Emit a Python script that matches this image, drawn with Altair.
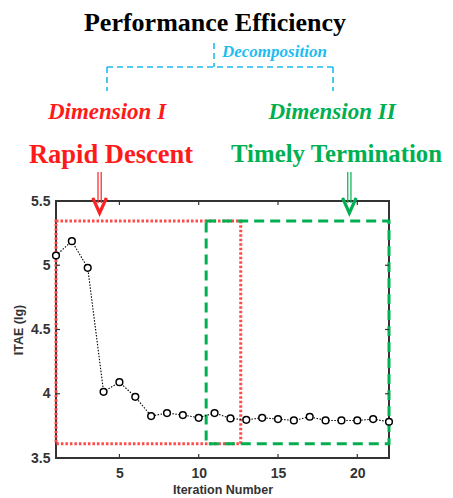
import altair as alt
import pandas as pd

# ---- data ----
iterations = list(range(1, 23))
itae = [5.076, 5.187, 4.98, 4.015, 4.09, 3.976, 3.826, 3.85, 3.834, 3.813, 3.85,
        3.808, 3.797, 3.813, 3.803, 3.792, 3.821, 3.792, 3.792, 3.792, 3.803, 3.782]

x_ticks = [5, 10, 15, 20]
y_ticks = [3.5, 4, 4.5, 5, 5.5]

# region boxes (x1, x2, y1, y2)
red_box = [1, 12.65, 3.61, 5.345]
green_box = [10.47, 22, 3.61, 5.345]
arrow_x = [3.75, 19.5]
arrow_colors = ["#ff2020", "#00b050"]

W, H = 333, 257
RED = "#ff1a1a"
GREEN = "#00b050"
BLUE = "#1ebcf0"
SERIF = "Liberation Serif"
SANS = "Liberation Sans"

df = pd.DataFrame({"it": iterations, "v": itae})
one = pd.DataFrame({"a": [0]})

xs = alt.Scale(domain=[1, 22], nice=False)
ys = alt.Scale(domain=[3.5, 5.5], nice=False)

base = alt.Chart(df)

line = base.mark_line(color="black", strokeDash=[1.5, 1.5], strokeWidth=1.1).encode(
    x=alt.X("it:Q", scale=xs,
            axis=alt.Axis(title="Iteration Number", values=x_ticks, ticks=False, tickSize=0,
                          domain=False, grid=False, labelPadding=8, labelFontSize=14,
                          labelFontWeight="bold", labelColor="#333", labelFont=SANS,
                          titleFont=SANS, titleFontSize=12.5, titleFontWeight="bold",
                          titleColor="#333", titlePadding=3)),
    y=alt.Y("v:Q", scale=ys,
            axis=alt.Axis(title="ITAE (lg)", values=y_ticks, format="~g", ticks=False,
                          tickSize=0, domain=False, grid=False, labelPadding=6,
                          labelFontSize=14, labelFontWeight="bold", labelColor="#333",
                          labelFont=SANS, titleFont=SANS, titleFontSize=12.5,
                          titleFontWeight="bold", titleColor="#333", titlePadding=5)),
)
points = base.mark_point(shape="circle", filled=True, fill="white", stroke="black",
                         strokeWidth=1.5, size=45, opacity=1).encode(
    x=alt.X("it:Q", scale=xs), y=alt.Y("v:Q", scale=ys))

boxes = pd.DataFrame({
    "x1": [red_box[0], green_box[0]], "x2": [red_box[1], green_box[1]],
    "y1": [red_box[2], green_box[2]], "y2": [red_box[3], green_box[3]],
    "k": ["red", "green"]})
red_rect = alt.Chart(boxes[boxes.k == "red"]).mark_rect(
    fill="transparent", stroke="#ff4a4a", strokeWidth=3, strokeDash=[2.5, 2]).encode(
    x=alt.X("x1:Q", scale=xs), x2="x2:Q", y=alt.Y("y1:Q", scale=ys), y2="y2:Q")
green_rect = alt.Chart(boxes[boxes.k == "green"]).mark_rect(
    fill="transparent", stroke="#00b050", strokeWidth=3, strokeDash=[10, 6]).encode(
    x=alt.X("x1:Q", scale=xs), x2="x2:Q", y=alt.Y("y1:Q", scale=ys), y2="y2:Q")

# inward ticks
xt = pd.DataFrame({"t": x_ticks})
yt = pd.DataFrame({"t": [4, 4.5, 5]})
tick_layers = [
    alt.Chart(xt).mark_rule(color="#333", strokeWidth=1.2).encode(
        x=alt.X("t:Q", scale=xs), y=alt.value(H), y2=alt.value(H - 4)),
    alt.Chart(xt).mark_rule(color="#333", strokeWidth=1.2).encode(
        x=alt.X("t:Q", scale=xs), y=alt.value(0), y2=alt.value(4)),
    alt.Chart(yt).mark_rule(color="#333", strokeWidth=1.2).encode(
        y=alt.Y("t:Q", scale=ys), x=alt.value(0), x2=alt.value(4)),
    alt.Chart(yt).mark_rule(color="#333", strokeWidth=1.2).encode(
        y=alt.Y("t:Q", scale=ys), x=alt.value(W), x2=alt.value(W - 4)),
]

# arrows
arrow_layers = []
for ax, col in zip(arrow_x, arrow_colors):
    a = pd.DataFrame({"x": [ax]})
    for off in (-1.6, 1.6):
        arrow_layers.append(alt.Chart(a).mark_rule(color=col, strokeWidth=1.2, xOffset=off).encode(
            x=alt.X("x:Q", scale=xs), y=alt.value(-29), y2=alt.value(2)))
    arrow_layers.append(alt.Chart(a).mark_point(
        shape="M-0.85,-0.9L0,1L0.85,-0.9", filled=False, stroke=col, strokeWidth=3.2,
        size=256, opacity=1).encode(x=alt.X("x:Q", scale=xs), y=alt.value(4)))

# bracket (pixel positions relative to plot origin)
bl = dict(color=BLUE, strokeWidth=1.6, strokeDash=[6, 4])
br = [
    alt.Chart(one).mark_rule(**bl).encode(x=alt.value(158), y=alt.value(-158), y2=alt.value(-134)),
    alt.Chart(one).mark_rule(**bl).encode(x=alt.value(51), x2=alt.value(277), y=alt.value(-134)),
    alt.Chart(one).mark_rule(**bl).encode(x=alt.value(51), y=alt.value(-134), y2=alt.value(-110)),
    alt.Chart(one).mark_rule(**bl).encode(x=alt.value(277), y=alt.value(-134), y2=alt.value(-110)),
]

texts = [
    ("Performance Efficiency", 159, -178, "center", 26, "normal", "black"),
    ("Decomposition", 166, -149, "left", 17, "italic", BLUE),
    ("Dimension I", 51, -89, "center", 23, "italic", RED),
    ("Dimension II", 276, -89, "center", 23, "italic", GREEN),
    ("Rapid Descent", 55, -46, "center", 26.5, "normal", RED),
    ("Timely Termination", 175, -46, "left", 24.8, "normal", GREEN),
]
text_layers = []
for t, tx, ty, al, fs, st, col in texts:
    text_layers.append(alt.Chart(one).mark_text(
        text=t, align=al, baseline="middle", font=SERIF, fontSize=fs, fontWeight="bold",
        fontStyle=st, color=col).encode(x=alt.value(tx), y=alt.value(ty)))

chart = alt.layer(
    red_rect, green_rect, line, points, *tick_layers, *arrow_layers, *br, *text_layers
).properties(
    width=W, height=H,
    autosize=alt.AutoSizeParams(type="none"),
    padding={"left": 48, "top": 193, "right": 56, "bottom": 42},
).configure_view(stroke="#333", strokeWidth=2)

chart.save("out.html", embed_options={"renderer": "svg", "actions": False})
